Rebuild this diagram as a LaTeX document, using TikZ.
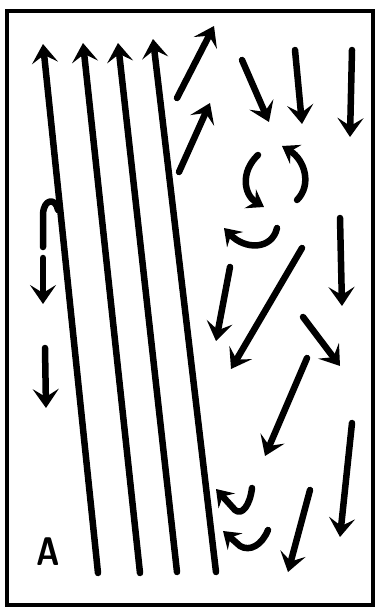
\documentclass[tikz,border=0pt]{standalone}
\usetikzlibrary{arrows.meta}
\begin{document}
\begin{tikzpicture}[x=1pt,y=-1pt,
  stroke/.style={line width=6.5pt,line cap=round,line join=round},
  arr/.style={stroke,-{Stealth[length=19pt,width=26pt,inset=8pt]}},
  carr/.style={stroke,-{Stealth[length=16pt,width=22pt,inset=6pt]}},
  frame/.style={line width=4pt}]
\useasboundingbox (0,0) rectangle (378,610);
\fill[white] (0,0) rectangle (378,610);
\draw[frame] (7,11) rectangle (373,605);
% long lines
\draw[arr] (98,573) -- (43,44);
\draw[arr] (140,573) -- (83,43);
\draw[arr] (177,572) -- (118,43);
\draw[arr] (216,572) -- (153,39);
% hook
\draw[stroke] (58,210) .. controls (56,198) and (44,198) .. (43,214) -- (43,247);
% left down arrows
\draw[arr] (43,258) -- (43,304);
\draw[arr] (45,348) -- (46,408);
% A
\node[font=\sffamily\bfseries\fontsize{40}{40}\selectfont,xscale=0.8] (lblA) at (48,552) {A};
% top right arrows
\draw[arr] (177,98) -- (214,26);
\draw[arr] (179,172) -- (210,103);
\draw[arr] (242,60) -- (269,122);
\draw[arr] (295,50) -- (302,124);
\draw[arr] (352,50) -- (350,137);
% curved arrows
\draw[carr] (258,155) .. controls (240,172) and (244,195) .. (264,207);
\draw[carr] (297,200) .. controls (312,185) and (305,160) .. (282,146);
\draw[carr] (277,228) .. controls (272,250) and (245,250) .. (224,228);
% middle right
\draw[arr] (340,218) -- (342,306);
\draw[arr] (230,267) -- (216,341);
\draw[arr] (302,248) -- (231,369);
\draw[arr] (303,317) -- (340,366);
\draw[arr] (307,358) -- (265,456);
\draw[arr] (352,423) -- (340,537);
\draw[arr] (310,490) -- (288,572);
% small curved arrows bottom
\draw[carr] (252,488) .. controls (250,505) and (242,516) .. (235,510) -- (216,489);
\draw[carr] (268,530) .. controls (262,545) and (250,552) .. (240,546) -- (223,531);
\end{tikzpicture}
\end{document}
